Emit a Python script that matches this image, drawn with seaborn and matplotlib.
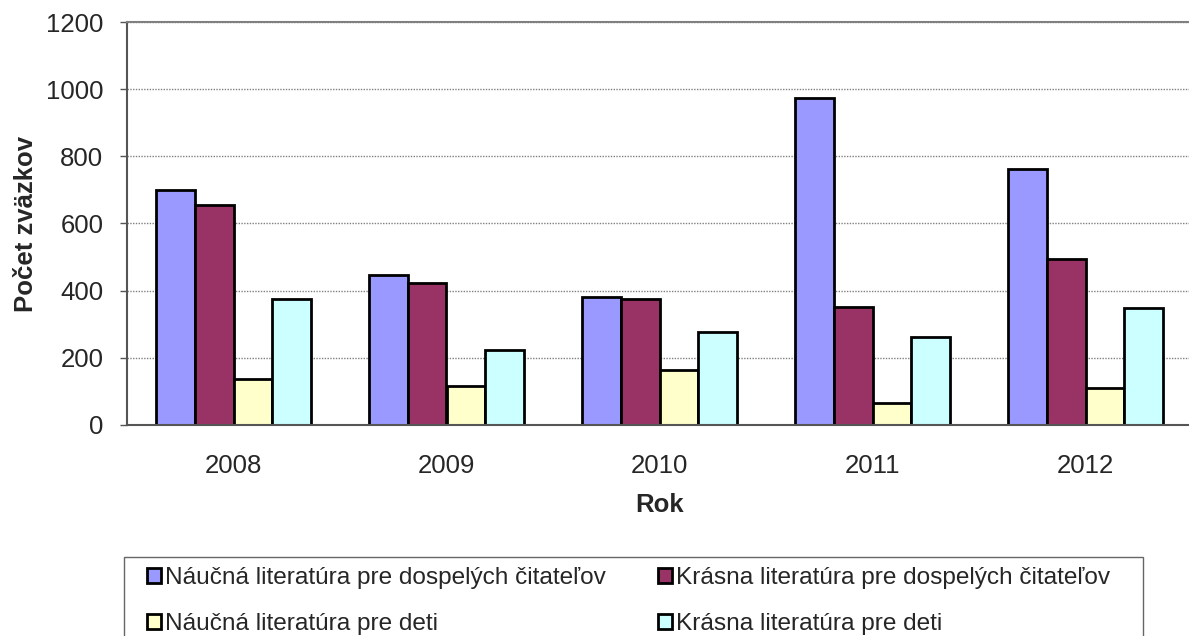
import matplotlib.pyplot as plt
import matplotlib.patches as mpatches
import seaborn as sns
import pandas as pd
import numpy as np

roky = ['2008', '2009', '2010', '2011', '2012']
naucna_dosp = [700, 447, 380, 973, 761]
krasna_dosp = [656, 422, 375, 350, 493]
naucna_deti = [137, 115, 164, 65, 109]
krasna_deti = [374, 223, 278, 261, 348]

serie = ['Náučná literatúra pre dospelých čitateľov',
         'Krásna literatúra pre dospelých čitateľov',
         'Náučná literatúra pre deti',
         'Krásna literatúra pre deti']
farby = ['#9999FF', '#993366', '#FFFFCC', '#CCFFFF']

df = pd.DataFrame({
    'Rok': roky * 4,
    'Počet': naucna_dosp + krasna_dosp + naucna_deti + krasna_deti,
    'Séria': np.repeat(serie, len(roky)),
})

sns.set_style('white')
plt.rcParams['font.family'] = ['Liberation Sans', 'DejaVu Sans']
FS = 18.5
W, H = 1189, 636

fig = plt.figure(figsize=(W / 100, H / 100), dpi=100)
ax = fig.add_axes([127 / W, 1 - 425 / H, 1065 / W, 403 / H])

sns.barplot(data=df, x='Rok', y='Počet', hue='Séria', palette=farby,
            width=0.73, gap=0, edgecolor='black', linewidth=2,
            saturation=1, ax=ax, legend=True)

ax.set_ylim(0, 1200)
ax.set_xlim(-0.5, 4.5)
ax.set_yticks(range(0, 1201, 200))
ax.yaxis.grid(True, color='#808080', linestyle=(0, (1, 1)), linewidth=1)
ax.set_axisbelow(True)

# ticky na hraniciach kategórií
ax.set_xticks(np.arange(-0.5, 5, 1), minor=True)
ax.tick_params(axis='x', which='minor', length=5.5, width=1, color='#555555', direction='out')
ax.tick_params(axis='x', which='major', length=0, labelsize=FS, pad=21)
ax.tick_params(axis='y', length=5, width=1, color='#555555', direction='out', labelsize=FS, pad=12)
ax.tick_params(axis='both', left=True, bottom=True)

ax.spines['right'].set_visible(False)
ax.spines['top'].set_color('#808080')
ax.spines['top'].set_linewidth(1.5)
for s in ['left', 'bottom']:
    ax.spines[s].set_color('#555555')
    ax.spines[s].set_linewidth(1.5)

ax.set_xlabel('Rok', fontsize=FS, fontweight='bold', labelpad=11)
ax.set_ylabel('Počet zväzkov', fontsize=FS, fontweight='bold', labelpad=6)

# legenda po riadkoch, rámik zvlášť
handles, labels = ax.get_legend_handles_labels()
ax.get_legend().remove()
order = [0, 2, 1, 3]
fig.legend([handles[i] for i in order], [labels[i] for i in order],
           loc='upper left', bbox_to_anchor=(147 / W, 1 - 567 / H),
           ncol=2, fontsize=17.6, frameon=False, borderpad=0, borderaxespad=0,
           handlelength=0.57, handleheight=0.57, handletextpad=0.16,
           columnspacing=2.13, labelspacing=1.0)
fig.patches.append(mpatches.Rectangle((124 / W, -0.05), (1143 - 124) / W, 0.05 + 1 - 557 / H,
                                      transform=fig.transFigure, fill=False,
                                      edgecolor='#666666', linewidth=1))

fig.savefig('out.png', dpi=100)
